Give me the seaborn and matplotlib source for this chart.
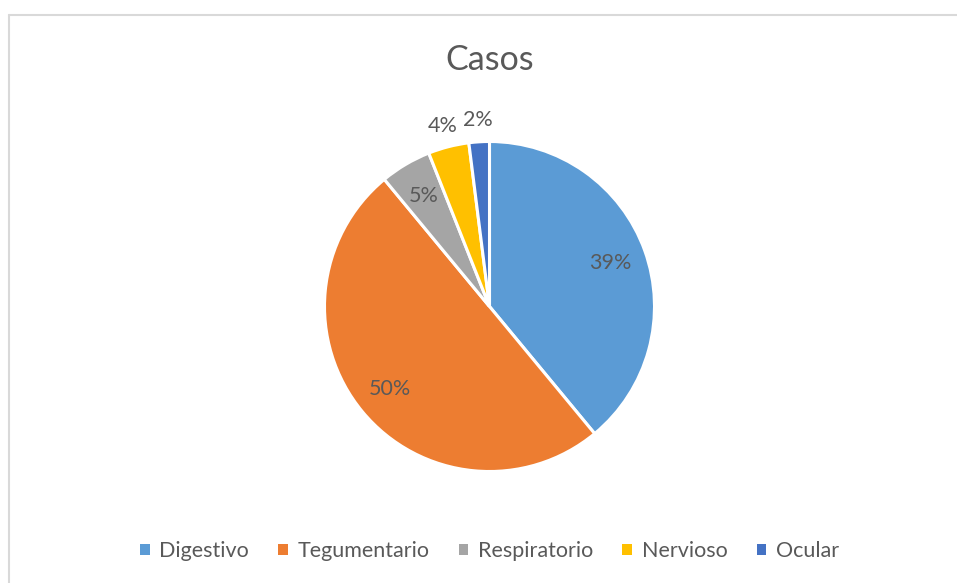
import numpy as np
import seaborn as sns
import matplotlib.pyplot as plt
from matplotlib.patches import Patch
from matplotlib.lines import Line2D

# data
categories = ["Digestivo", "Tegumentario", "Respiratorio", "Nervioso", "Ocular"]
values = [39, 50, 5, 4, 2]
colors = ["#5B9BD5", "#ED7D31", "#A5A5A5", "#FFC000", "#4472C4"]
title = "Casos"

sns.set_theme(style="white")
plt.rcParams['font.family'] = ['Lato', 'DejaVu Sans']
txt_color = "#595959"
palette = sns.color_palette(colors)

fig = plt.figure(figsize=(9.57, 5.83), dpi=100)

# pie axes: 330px square centred on the pie
W, H = 957, 583
cx, cy, r = 489.5, 306.5, 165
ax = fig.add_axes([(cx - r) / W, 1 - (cy + r) / H, 2 * r / W, 2 * r / H])

wedges, texts, autotexts = ax.pie(
    values, colors=palette, startangle=90, counterclock=False,
    autopct="%1.0f%%", pctdistance=0.78, radius=1,
    wedgeprops=dict(edgecolor="white", linewidth=2.2),
    textprops=dict(color=txt_color, fontsize=15.5),
)
ax.set_xlim(-1, 1)
ax.set_ylim(-1, 1)
ax.set_aspect("equal")
ax.axis("off")

# small slices get their label outside (Excel best fit)
for w, t, v in zip(wedges, autotexts, values):
    if v < 5:
        ang = np.deg2rad((w.theta1 + w.theta2) / 2)
        t.set_position((1.13 * np.cos(ang), 1.13 * np.sin(ang)))

fig.text(cx / W, 1 - 60 / H, title, ha="center", va="center",
         fontsize=24.5, color=txt_color)

# chart border (top and left visible)
fig.add_artist(Line2D([8.5 / W, 1], [1 - 14.5 / H, 1 - 14.5 / H], color="#D9D9D9", lw=1.5))
fig.add_artist(Line2D([8.5 / W, 8.5 / W], [0, 1 - 14.5 / H], color="#D9D9D9", lw=1.5))

handles = [Patch(facecolor=c, edgecolor="none") for c in colors]
leg = fig.legend(handles, categories, loc="center", ncol=5,
                 bbox_to_anchor=(cx / W, 1 - 551 / H), frameon=False,
                 handlelength=0.45, handleheight=0.45, handletextpad=0.45,
                 columnspacing=1.35, fontsize=15.5)
for t in leg.get_texts():
    t.set_color(txt_color)

fig.savefig("out.png", dpi=100)
